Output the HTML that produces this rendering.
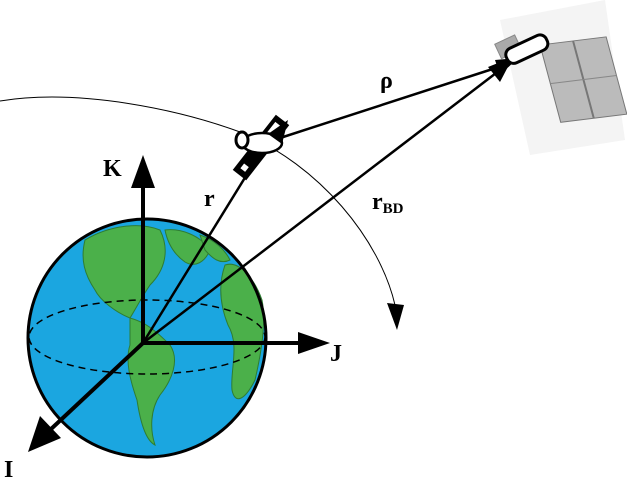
<!DOCTYPE html>
<html><head><style>body{margin:0;background:#fff}svg{display:block}</style></head><body>
<svg width="627" height="478" viewBox="0 0 627 478" xmlns="http://www.w3.org/2000/svg" font-family="Liberation Serif, serif" font-weight="bold">
<!-- big satellite background -->
<polygon points="500,20 605,0 625,140 530,155" fill="#f4f4f4"/>
<!-- orbit -->
<path d="M0,101 C80,88 180,110 240,132 C320,165 380,240 395,305" fill="none" stroke="#000" stroke-width="1"/>
<polygon points="387,303 404,305 397,330" fill="#000"/>
<!-- earth -->
<circle cx="147" cy="338" r="119" fill="#1ba6e0"/>
<g fill="#4bb04a" stroke="#2e7d32" stroke-width="1">
<path d="M85,240 C110,225 140,222 160,230 C170,250 165,270 150,285 C140,300 135,310 130,318 C115,312 100,300 95,290 C85,275 80,260 85,240Z"/>
<path d="M130,318 C145,322 155,330 170,345 C180,360 172,380 160,395 C150,410 150,430 155,445 C145,440 140,420 137,400 C130,380 125,360 130,345Z"/>
<path d="M225,265 C240,260 255,280 262,300 C266,320 262,350 255,380 C245,400 235,405 232,390 C230,370 240,345 228,325 C220,305 218,285 225,265Z"/>
<path d="M165,230 C180,228 200,235 210,250 C205,262 195,268 185,262 C175,255 168,245 165,230Z"/>
<path d="M200,235 C215,240 225,250 230,260 C220,265 212,258 205,250Z"/>
</g>
<circle cx="147" cy="338" r="119" fill="none" stroke="#000" stroke-width="3"/>
<ellipse cx="147" cy="337" rx="118" ry="37" fill="none" stroke="#000" stroke-width="1.5" stroke-dasharray="7,5"/>
<!-- axes -->
<g stroke="#000" stroke-width="4" fill="none">
<line x1="143" y1="343" x2="143" y2="185"/>
<line x1="143" y1="343" x2="300" y2="343"/>
<line x1="143" y1="343" x2="50" y2="430"/>
</g>
<polygon points="143,155 131,188 155,188" fill="#000"/>
<polygon points="330,343 298,332 298,354" fill="#000"/>
<polygon points="28,452 40,416 61,438" fill="#000"/>
<g stroke="#000" stroke-width="2.5">
<line x1="143" y1="343" x2="262" y2="150"/>
<line x1="143" y1="343" x2="500" y2="70"/>
<line x1="280" y1="138" x2="505" y2="65"/>
</g>
<polygon points="513,57 488,67 500,82" fill="#000"/>
<polygon points="518,58 495,60 500,75" fill="#000"/>
<!-- small satellite -->
<g transform="translate(260,148) rotate(38)">
<rect x="-8" y="-36" width="17" height="70" fill="#000"/>
<rect x="-4" y="-30" width="9" height="22" fill="#fff"/>
<rect x="-3" y="22" width="6" height="6" fill="#fff"/>
</g>
<ellipse cx="262" cy="143" rx="20" ry="10" fill="#fff" stroke="#000" stroke-width="2.5"/>
<ellipse cx="242" cy="140" rx="6" ry="8" fill="#fff" stroke="#000" stroke-width="3"/>
<polygon points="288,120 268,134 282,144" fill="#000"/>
<!-- big satellite -->
<g transform="translate(540,45) rotate(-15) skewY(8)">
<rect x="0" y="0" width="66" height="80" fill="#bbb" stroke="#777"/>
<line x1="33" y1="0" x2="33" y2="80" stroke="#777" stroke-width="2"/>
<line x1="0" y1="40" x2="66" y2="40" stroke="#888"/>
</g>
<g transform="translate(525,50) rotate(-25)">
<rect x="-25" y="-18" width="22" height="16" fill="#aaa" stroke="#888"/>
<rect x="-20" y="-8" width="44" height="16" rx="7" fill="#fff" stroke="#000" stroke-width="3"/>
</g>
<!-- labels -->
<text x="103" y="176" font-size="24">K</text>
<text x="330" y="361" font-size="24">J</text>
<text x="4" y="477" font-size="24">I</text>
<text x="204" y="206" font-size="24">r</text>
<text x="372" y="209" font-size="24">r<tspan font-size="15" dy="4">BD</tspan></text>
<text x="380" y="88" font-size="24">ρ</text>
</svg>
</body></html>
